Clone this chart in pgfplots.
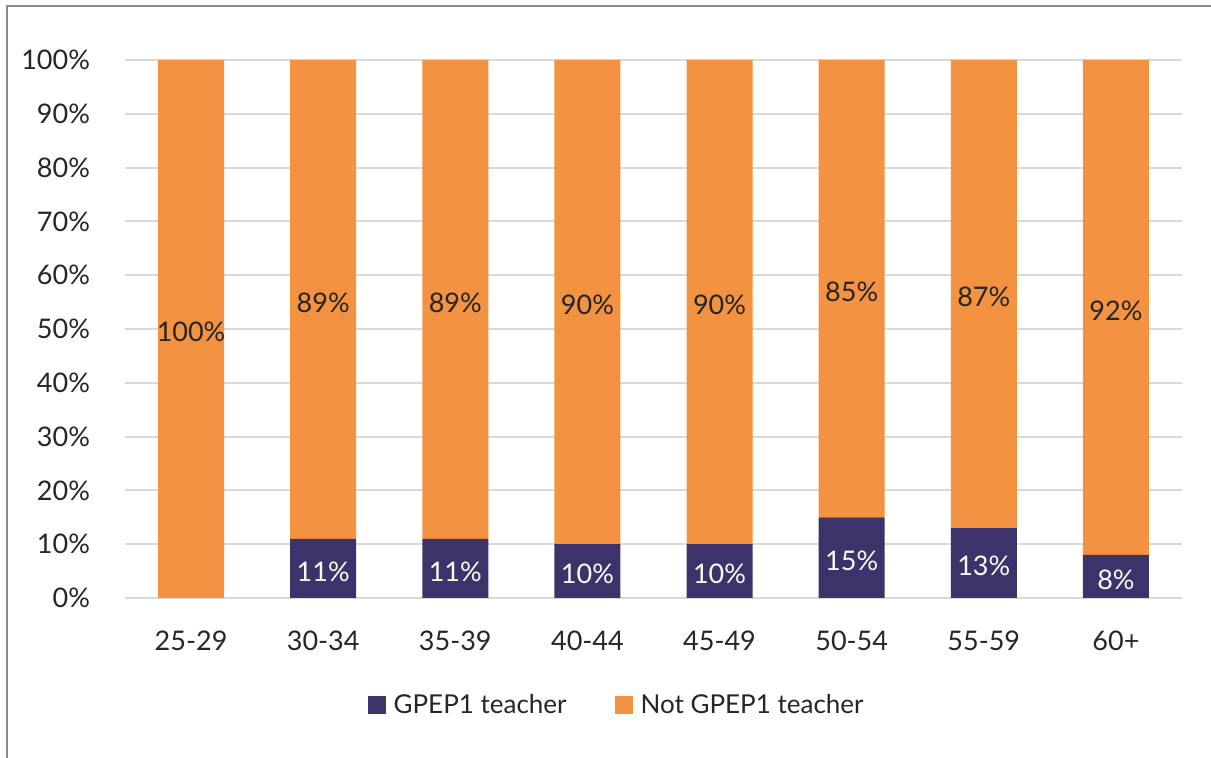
\documentclass[border=0pt]{standalone}
\usepackage{fontspec}
\setmainfont{Lato}
\usepackage{pgfplots}
\pgfplotsset{compat=1.18}
\definecolor{gpep}{HTML}{3D336B}
\definecolor{notgpep}{HTML}{F39240}
\definecolor{gridgray}{HTML}{D9D9D9}
\definecolor{txt}{HTML}{262626}
\definecolor{frame}{HTML}{8C8C8C}
\begin{document}
\begin{tikzpicture}
\useasboundingbox (0,0) rectangle (605.5pt,-379pt);
\draw[frame, line width=0.8pt] (3.5pt,-379pt) -- (3.5pt,-3pt) -- (605.5pt,-3pt);
\begin{axis}[
  at={(62.5pt,-299pt)}, anchor=south west,
  scale only axis, width=528.5pt, height=269pt,
  ybar stacked, bar width=33pt,
  xmin=-0.5, xmax=7.5, ymin=0, ymax=100,
  xtick={0,...,7},
  xticklabels={25-29,30-34,35-39,40-44,45-49,50-54,55-59,60+},
  ytick={0,10,...,100},
  yticklabel={\pgfmathprintnumber{\tick}\%},
  /pgf/number format/assume math mode=true,
  axis line style={draw=none},
  tick style={draw=none},
  ymajorgrids, grid style={gridgray, line width=1pt},
  tick label style={font=\fontsize{13.5}{16}\selectfont, text=txt},
  yticklabel style={xshift=-14pt},
  xticklabel style={yshift=-13pt},
  point meta=rawy,
  nodes near coords={\pgfmathfloatifflags{\pgfplotspointmeta}{0}{}{\pgfmathprintnumber{\pgfplotspointmeta}\%}},
  every node near coord/.append style={font=\fontsize{13.5}{16}\selectfont, anchor=center,
    yshift=-1.5pt},
  legend style={draw=none, at={(0.466,-0.199)}, anchor=center, legend columns=2,
    font=\fontsize{13}{15}\selectfont, text=txt,
    /tikz/every even column/.append style={column sep=22pt}},
  legend image code/.code={\fill[#1] (0pt,-4.5pt) rectangle (9pt,4.5pt); \path (11pt,0pt);},
]
\addplot[fill=gpep, draw=none, every node near coord/.append style={text=white!95!gray}] coordinates {
  (0,0) (1,11) (2,11) (3,10) (4,10) (5,15) (6,13) (7,8)};
\addplot[fill=notgpep, draw=none, every node near coord/.append style={text=txt}] coordinates {
  (0,100) (1,89) (2,89) (3,90) (4,90) (5,85) (6,87) (7,92)};
\legend{GPEP1 teacher, Not GPEP1 teacher}
\end{axis}
\end{tikzpicture}
\end{document}
